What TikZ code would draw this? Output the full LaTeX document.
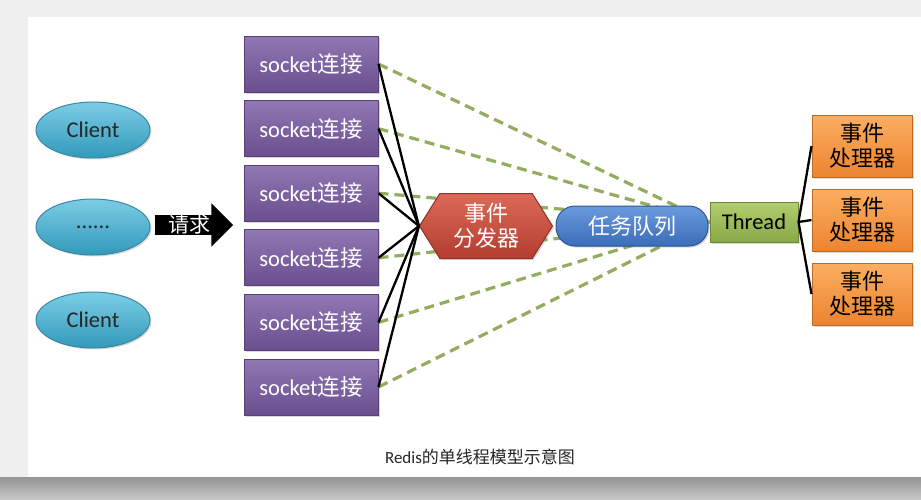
\documentclass[tikz,border=0pt]{standalone}
\usepackage{fontspec}
\setmainfont{Carlito}
\newfontfamily\cjk{Noto Sans CJK SC}
\usetikzlibrary{
arrows.meta,
positioning,
shapes.geometric,
shapes.symbols,
shapes.arrows,
shadows,
backgrounds
}
\definecolor{SockTop}{HTML}{9078B4}
\definecolor{SockBot}{HTML}{6A4E8E}
\definecolor{SockLine}{HTML}{584077}
\definecolor{CliTop}{HTML}{7CCDE6}
\definecolor{CliBot}{HTML}{3199BA}
\definecolor{CliLine}{HTML}{3A88A0}
\definecolor{HexTop}{HTML}{DD6A58}
\definecolor{HexBot}{HTML}{B23D30}
\definecolor{QueTop}{HTML}{6B9BDE}
\definecolor{QueBot}{HTML}{3A6CB8}
\definecolor{ThrTop}{HTML}{B2CE6E}
\definecolor{ThrBot}{HTML}{88A846}
\definecolor{OrgTop}{HTML}{FBAE62}
\definecolor{OrgBot}{HTML}{EC8430}
\definecolor{DashGreen}{HTML}{92AD5E}

\begin{document}
\begin{tikzpicture}[x=1pt,y=-1pt,every node/.style={font=\fontsize{22.5}{25}\selectfont, align=center, inner sep=0pt},
  boxshadow/.style={drop shadow={opacity=0.3, shadow xshift=1.5pt, shadow yshift=-1.5pt}},
  client/.style={ellipse, draw=CliLine, line width=1pt, top color=CliTop, bottom color=CliBot, minimum width=114pt, minimum height=56pt, text=black!85, boxshadow},
  sock/.style={draw=SockLine, line width=1pt, top color=SockTop, bottom color=SockBot, minimum width=134pt, minimum height=56pt, text=white, boxshadow},
  proc/.style={draw=OrgBot!80!black, line width=1pt, top color=OrgTop, bottom color=OrgBot, minimum width=100pt, minimum height=62pt, text=black, boxshadow},
  conn/.style={line width=2.3pt, black},
  dashconn/.style={line width=3.2pt, DashGreen, dash pattern=on 10pt off 6pt}]
        \useasboundingbox (0,0) rectangle (921,499);
        \node[client] (c1) at (93,130) {Client};
        \node[client] (c2) at (93,227) {......};
        \node[client] (c3) at (93,320) {Client};
        \node[single arrow, fill=black, text=white, single arrow head extend=12pt, single arrow head indent=0pt, minimum height=78pt, inner xsep=3pt, anchor=tail, font=\fontsize{21}{22}\selectfont\cjk] (req) at (155,225) {请求};
        \foreach \i in {1,...,6} {\node[sock] (s\i) at (311,{64+64.6*(\i-1)}) {socket{\cjk 连接}};}
        \node[signal, signal to=east and west, signal pointer angle=116, draw=HexBot!80!black, line width=1pt, top color=HexTop, bottom color=HexBot, minimum width=133pt, minimum height=65pt, text=white, font=\fontsize{22}{25}\selectfont\cjk, boxshadow] (hex) at (486,226) {事件\\分发器};
        \node[draw=QueBot!80!black, line width=1pt, top color=QueTop, bottom color=QueBot, rounded corners=19pt, minimum width=152pt, minimum height=40pt, text=white, font=\fontsize{22}{24}\selectfont\cjk, boxshadow] (queue) at (632,226) {任务队列};
        \node[draw=ThrBot!80!black, line width=1pt, top color=ThrTop, bottom color=ThrBot, minimum width=88pt, minimum height=40pt, text=black, boxshadow] (thread) at (754,222) {Thread};
        \foreach \i/\y in {1/146,2/220,3/294} {\node[proc, font=\fontsize{22}{25}\selectfont\cjk] (p\i) at (862,\y) {事件\\处理器};}
        \node[font=\fontsize{17}{18}\selectfont, text=black!85] (cap) at (480,457) {Redis{\cjk 的单线程模型示意图}};
        \foreach \i in {1,...,6} {\draw[conn] (s\i.east) -- (hex.west);}
        \foreach \i in {1,2,3} {\draw[conn] (thread.east) -- (p\i.west);}
        \begin{scope}[on background layer]
        \fill[black!6] (0,0) rectangle (921,499);
        \fill[top color=black!42, bottom color=black!22] (0,477) rectangle (921,499);
        \fill[white] (28,17) rectangle (921,477);
        \foreach \i in {1,...,6} {\draw[dashconn] (s\i.east) -- (thread.west);}
        \end{scope}
    \end{tikzpicture}
\end{document}
